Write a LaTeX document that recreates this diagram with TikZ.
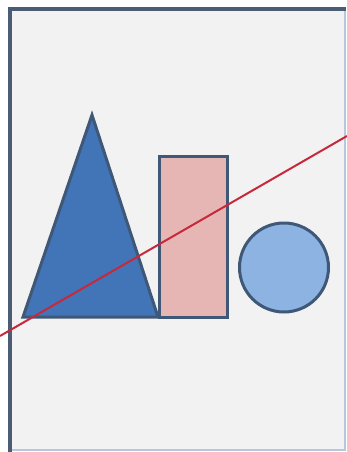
\documentclass[tikz,border=0pt]{standalone}
\usepackage{tikz}
\definecolor{framebg}{HTML}{F2F2F2}
\definecolor{framedark}{HTML}{4A5D74}
\definecolor{framelight}{HTML}{B8C8DC}
\definecolor{shapeedge}{HTML}{3F5878}
\definecolor{trifill}{HTML}{4274B8}
\definecolor{rectfill}{HTML}{E6B6B4}
\definecolor{circfill}{HTML}{8DB3E2}
\definecolor{redline}{HTML}{C8283C}
\tikzset{
  shapeline/.style={draw=shapeedge, line width=3pt, line join=miter},
}
\begin{document}
\begin{tikzpicture}[x=1pt,y=-1pt]
\useasboundingbox (0,0) rectangle (347,452);
\fill[white] (0,0) rectangle (347,452);
% frame
\fill[framebg] (10,9) rectangle (345,450);
\draw[framelight, line width=1.5pt] (345,9) -- (345,450) -- (10,450);
\draw[framedark, line width=3.5pt] (10,452) -- (10,9) -- (346,9);
% triangle
\draw[shapeline, fill=trifill] (23,317) -- (92,115) -- (158,317) -- cycle;
% rectangle
\draw[shapeline, fill=rectfill] (159,156) rectangle (227,317);
% circle
\draw[shapeline, fill=circfill] (284,267.5) circle[radius=44.5];
% red line
\coordinate (ls) at (0,336);
\coordinate (le) at (347,136);
\draw[redline, line width=2pt] (ls) -- (le);
\end{tikzpicture}
\end{document}
